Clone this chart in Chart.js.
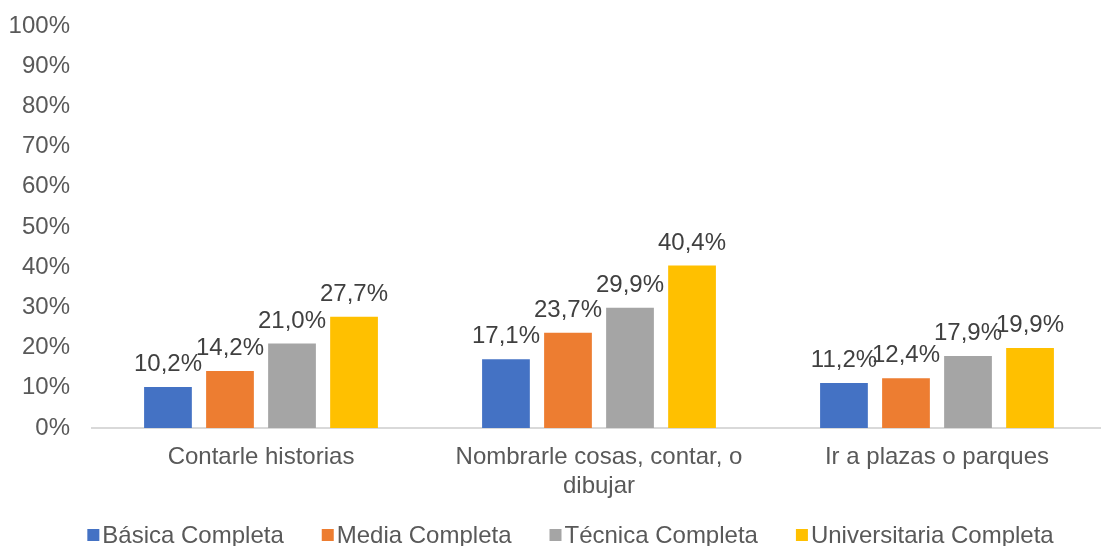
<!DOCTYPE html>
<html>
<head>
<meta charset="utf-8">
<script src="https://cdn.jsdelivr.net/npm/chart.js@4/dist/chart.umd.min.js"></script>
<style>
  html, body { margin: 0; padding: 0; background: #fff; overflow: hidden; }
  #wrap { width: 1101px; height: 546px; }
</style>
</head>
<body>
<div id="wrap"><canvas id="chart"></canvas></div>
<script>
const categories = [
  'Contarle historias',
  ['Nombrarle cosas, contar, o', 'dibujar'],
  'Ir a plazas o parques'
];
const seriesNames = ['Básica Completa', 'Media Completa', 'Técnica Completa', 'Universitaria Completa'];
const basica = [10.2, 17.1, 11.2];
const media = [14.2, 23.7, 12.4];
const tecnica = [21.0, 29.9, 17.9];
const universitaria = [27.7, 40.4, 19.9];
const yTicks = [0, 10, 20, 30, 40, 50, 60, 70, 80, 90, 100];

const colors = ['#4472c4', '#ed7d31', '#a5a5a5', '#ffc000'];
const FONT = '"Liberation Sans", Arial, sans-serif';
const SIZE = 24;

const fmt = (v) => v.toFixed(1).replace('.', ',') + '%';

// Plot area runs a little past the right edge of the canvas, like the original
const widenPlot = {
  id: 'widenPlot',
  afterLayout(chart) {
    const x = chart.scales.x;
    x.right = chart.width + 5;
    x.width = x.right - x.left;
    chart.chartArea.right = x.right;
    chart.chartArea.width = x.width;
    x.configure();
  }
};

// Draw value labels above each bar
const valueLabels = {
  id: 'valueLabels',
  afterDatasetsDraw(chart) {
    const ctx = chart.ctx;
    ctx.save();
    ctx.font = SIZE + 'px ' + FONT;
    ctx.fillStyle = '#404040';
    ctx.textAlign = 'center';
    ctx.textBaseline = 'alphabetic';
    chart.data.datasets.forEach((ds, i) => {
      chart.getDatasetMeta(i).data.forEach((bar, j) => {
        ctx.fillText(fmt(ds.data[j]), bar.x, bar.y - 16);
      });
    });
    ctx.restore();
  }
};

// Legend drawn by hand to get the tight box/text spacing
const bottomLegend = {
  id: 'bottomLegend',
  afterDraw(chart) {
    const ctx = chart.ctx;
    ctx.save();
    ctx.font = SIZE + 'px ' + FONT;
    ctx.textBaseline = 'middle';
    const box = 12, gap = 3, itemGap = 38;
    const widths = seriesNames.map(n => box + gap + ctx.measureText(n).width);
    const total = widths.reduce((a, b) => a + b, 0) + itemGap * (widths.length - 1);
    let x = chart.width / 2 + 20 - total / 2;
    const y = 535;
    seriesNames.forEach((name, i) => {
      ctx.fillStyle = colors[i];
      ctx.fillRect(x, y - box / 2, box, box);
      ctx.fillStyle = '#595959';
      ctx.fillText(name, x + box + gap, y + 1);
      x += widths[i] + itemGap;
    });
    ctx.restore();
  }
};

const allSeries = [basica, media, tecnica, universitaria];

new Chart(document.getElementById('chart'), {
  type: 'bar',
  data: {
    labels: categories,
    datasets: allSeries.map((data, i) => ({
      label: seriesNames[i],
      data: data,
      backgroundColor: colors[i],
      categoryPercentage: 0.734,
      barPercentage: 0.77
    }))
  },
  options: {
    responsive: true,
    maintainAspectRatio: false,
    animation: false,
    layout: { padding: { top: 26, right: 0, left: 0, bottom: 38 } },
    scales: {
      y: {
        min: 0,
        max: 100,
        afterBuildTicks: (scale) => { scale.ticks = yTicks.map(v => ({ value: v })); },
        afterFit: (scale) => {
          scale.width = 92;
          scale.paddingTop = 0;
          scale.paddingBottom = 0;
        },
        grid: { display: false, drawTicks: false },
        border: { display: false },
        ticks: {
          padding: 22,
          color: '#595959',
          font: { family: FONT, size: SIZE },
          callback: (v) => v + '%'
        }
      },
      x: {
        afterFit: (scale) => {
          scale.height = 80;
          scale.paddingLeft = 0;
          scale.paddingRight = 0;
        },
        grid: { display: false, drawTicks: false },
        border: { display: true, color: '#d9d9d9', width: 2 },
        ticks: {
          padding: 15,
          color: '#595959',
          font: { family: FONT, size: SIZE },
          maxRotation: 0
        }
      }
    },
    plugins: {
      legend: { display: false },
      tooltip: { enabled: false }
    }
  },
  plugins: [widenPlot, valueLabels, bottomLegend]
});
</script>
</body>
</html>
